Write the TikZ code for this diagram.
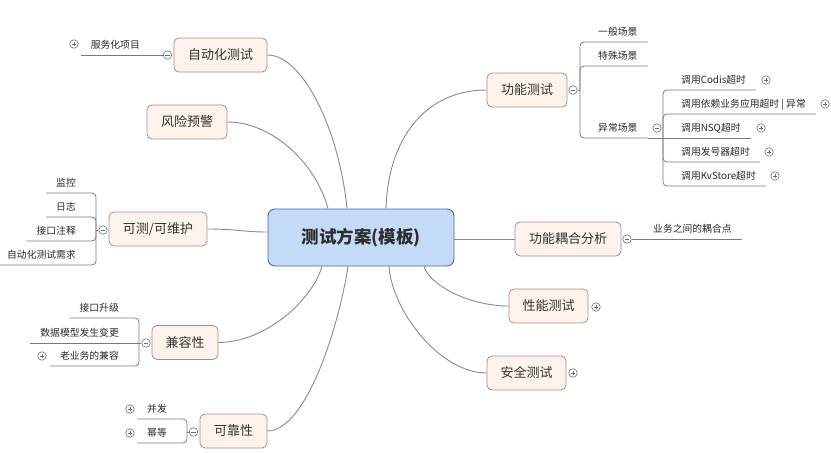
\documentclass[tikz,border=0pt]{standalone}
\usepackage{fontspec}
\setmainfont{Noto Sans CJK SC}
\definecolor{linec}{HTML}{8A8A8A}
\definecolor{brc}{HTML}{7A7A7A}
\definecolor{pmc}{HTML}{707070}
\definecolor{lonefill}{HTML}{FDF3EC}
\definecolor{loneborder}{HTML}{A09288}
\definecolor{rootfill}{HTML}{C4DBF7}
\definecolor{rootborder}{HTML}{4E6A90}
\definecolor{txt}{HTML}{333333}
\tikzset{
  rootbox/.style={draw=rootborder, fill=rootfill, line width=0.9pt, rounded corners=7pt,
    minimum width=186pt, minimum height=57pt, inner sep=2pt,
    font=\fontsize{17.5}{20}\selectfont\bfseries, text=txt!90!black, text height=14pt, text depth=2pt},
  lone/.style={draw=loneborder, fill=lonefill, line width=0.8pt, rounded corners=5pt,
    minimum height=34pt, inner xsep=2pt, inner ysep=2pt,
    font=\fontsize{13}{15}\selectfont, text=txt, text height=10.5pt, text depth=1.5pt},
  leaf/.style={inner xsep=10pt, inner ysep=5pt, font=\fontsize{9.8}{11}\selectfont,
    text=txt!80!black, text height=8pt, text depth=1pt},
  pmbase/.style={circle, draw=pmc, fill=white, line width=0.6pt, minimum size=8.5pt, inner sep=0pt},
  minus/.style={pmbase, path picture={\draw[pmc, line width=0.7pt]
      ([xshift=-2.3pt]path picture bounding box.center) -- ([xshift=2.3pt]path picture bounding box.center);}},
  plus/.style={pmbase, path picture={\draw[pmc, line width=0.7pt]
      ([xshift=-2.3pt]path picture bounding box.center) -- ([xshift=2.3pt]path picture bounding box.center)
      ([yshift=-2.3pt]path picture bounding box.center) -- ([yshift=2.3pt]path picture bounding box.center);}},
  curve/.style={draw=linec, line width=0.9pt},
  conn/.style={draw=brc, line width=0.8pt},
  br/.style={draw=brc, line width=0.8pt, rounded corners=4pt}
}
\begin{document}
\begin{tikzpicture}[x=1pt,y=-1pt]
\useasboundingbox (0,0) rectangle (831,453);
\fill[white] (0,0) rectangle (831,453);

% root
\node[rootbox] (root) at (361,237.5) {测试方案(模板)};

% level 1
\node[lone, minimum width=93pt] (auto) at (220.5,55) {自动化测试};
\node[lone, minimum width=80pt] (risk) at (187,122) {风险预警};
\node[lone, minimum width=98pt] (kc) at (158,229) {可测/可维护};
\node[lone, minimum width=66pt] (jr) at (185,342.5) {兼容性};
\node[lone, minimum width=67pt] (kk) at (233.5,431) {可靠性};
\node[lone, minimum width=80pt] (gn) at (527,90) {功能测试};
\node[lone, minimum width=106pt] (gnoh) at (568,239) {功能耦合分析};
\node[lone, minimum width=79pt] (xn) at (548.5,306) {性能测试};
\node[lone, minimum width=79pt] (aq) at (526.5,373) {安全测试};

% curves root - level 1
\draw[curve] (auto.east) .. controls +(35,0) and +(-8,-80) .. ([xshift=-14pt]root.north);
\draw[curve] (risk.east) .. controls +(45,0) and +(-12,-45) .. ([xshift=-33pt]root.north);
\draw[curve] (gn.west) .. controls +(-62,0) and +(2,-69) .. ([xshift=25pt]root.north);
\draw[curve] (kc.east) .. controls +(30,0) and +(-25,0) .. ([yshift=5.5pt]root.west);
\draw[curve] (root.east |- gnoh.west) -- (gnoh.west);
\draw[curve] (jr.east) .. controls +(47,0) and +(-10,34) .. ([xshift=-39pt]root.south);
\draw[curve] (kk.east) .. controls +(38,0) and +(-10,64) .. ([xshift=-13pt]root.south);
\draw[curve] (aq.west) .. controls +(-47,0) and +(3,44) .. ([xshift=28pt]root.south);
\draw[curve] (xn.west) .. controls +(-39,0) and +(6,19) .. ([xshift=63pt]root.south);

% collapse markers
\node[minus] (m1) at (167.5,55) {};
\node[minus] (m3) at (103,230) {};
\node[minus] (m5) at (146,343) {};
\node[minus] (m6) at (193.5,432) {};
\node[minus] (m7) at (573,90) {};
\node[minus] (m8) at (657,128) {};
\node[minus] (m9) at (627,239) {};

% leaves left
\node[leaf, anchor=south east] (s1) at (150,55) {服务化项目};
\node[leaf, anchor=south east] (k1) at (86,193) {监控};
\node[leaf, anchor=south east] (k2) at (86,217) {日志};
\node[leaf, anchor=south east] (k3) at (86,241) {接口注释};
\node[leaf, anchor=south east] (k4) at (86,265) {自动化测试需求};
\node[leaf, anchor=south east] (j1) at (129,318) {接口升级};
\node[leaf, anchor=south east] (j2) at (129,343) {数据模型发生变更};
\node[leaf, anchor=south east] (j3) at (129,366) {老业务的兼容};
\node[leaf, anchor=south east] (r1) at (177,419) {并发};
\node[leaf, anchor=south east] (r2) at (177,443) {幂等};

% leaves right
\node[leaf, anchor=south west] (g1) at (588,42) {一般场景};
\node[leaf, anchor=south west] (g2) at (588,66) {特殊场景};
\node[leaf, anchor=south west] (g3) at (588,138) {异常场景};
\node[leaf, anchor=south west] (e1) at (671,90) {调用Codis超时};
\node[leaf, anchor=south west] (e2) at (671,114) {调用依赖业务应用超时 | 异常};
\node[leaf, anchor=south west] (e3) at (671,138) {调用NSQ超时};
\node[leaf, anchor=south west] (e4) at (671,162) {调用发号器超时};
\node[leaf, anchor=south west] (e5) at (671,186) {调用KvStore超时};
\node[leaf, anchor=south west] (h1) at (643,239) {业务之间的耦合点};

% expand markers
\node[plus] (p1) at (74,44) {};
\node[plus] (p2) at (42,356) {};
\node[plus] (p3) at (130,409) {};
\node[plus] (p4) at (130,433) {};
\node[plus] (p5) at (766,80) {};
\node[plus] (p6) at (825,104) {};
\node[plus] (p7) at (761,128) {};
\node[plus] (p8) at (769,152) {};
\node[plus] (p9) at (775,176) {};
\node[plus] (p10) at (596,307) {};
\node[plus] (p11) at (573,373) {};

% brackets
\draw[conn] (m1.west) -- (s1.south west);

\coordinate (b3) at (96,230);
\draw[conn] (m3.west) -- (b3);
\foreach \n in {k1,k2,k3,k4} \draw[br] (b3) |- (\n.south east) -- (\n.south west);

\coordinate (b5) at (139,343);
\draw[conn] (m5.west) -- (b5);
\draw[br] (b5) |- (j1.south east) -- (j1.south west);
\draw[conn] (b5) -- (j2.south west);
\draw[br] (b5) |- (j3.south east) -- (j3.south west);

\coordinate (b6) at (187,432);
\draw[conn] (m6.west) -- (b6);
\foreach \n in {r1,r2} \draw[br] (b6) |- (\n.south east) -- (\n.south west);

\coordinate (b7) at (580,90);
\draw[conn] (m7.east) -- (b7);
\foreach \n in {g1,g2,g3} \draw[br] (b7) |- (\n.south west) -- (\n.south east);

\coordinate (b8) at (663,138);
\draw[conn] (g3.south east) -- (b8);
\foreach \n in {e1,e2,e4,e5} \draw[br] (b8) |- (\n.south west) -- (\n.south east);
\draw[conn] (b8) -- (e3.south east);

\draw[conn] (m9.east) -- (h1.south east);
\end{tikzpicture}
\end{document}
